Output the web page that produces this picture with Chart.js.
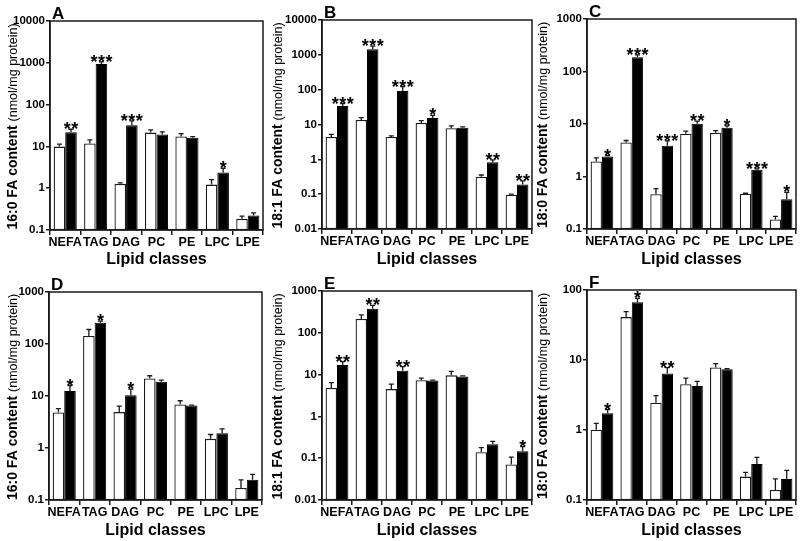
<!DOCTYPE html>
<html>
<head>
<meta charset="utf-8">
<script src="https://cdn.jsdelivr.net/npm/chart.js@4.4.0/dist/chart.umd.min.js"></script>
<style>
  html, body { margin: 0; padding: 0; background: #fff; }
  #fig { position: relative; width: 800px; height: 541px; overflow: hidden; }
  #fig canvas { position: absolute; }
</style>
</head>
<body>
<div id="fig"></div>
<script>
/* ── Data ─────────────────────────────────────────────── */
const categories = ['NEFA', 'TAG', 'DAG', 'PC', 'PE', 'LPC', 'LPE'];

// A – 16:0, top row
const ctrlA     = [9.9, 11.7, 1.27, 21.4, 17.2, 1.22, 0.185];
const ctrlErrA  = [11.3, 14.3, 1.34, 24.8, 20.3, 1.61, 0.214];
const treatA    = [21.8, 930, 32, 19.2, 16.0, 2.37, 0.222];
const treatErrA = [25.7, 1050, 41, 22.2, 17.2, 3.0, 0.257];
const starsA    = ['**', '***', '***', '', '', '*', ''];
const ticksA    = [0.1, 1, 10, 100, 1000, 10000];

// B – 18:1, top row
const ctrlB     = [4.38, 13.5, 4.4, 11.1, 7.8, 0.318, 0.097];
const ctrlErrB  = [5.2, 15.7, 4.7, 12.9, 9.1, 0.355, 0.1];
const treatB    = [34, 1450, 92, 15.4, 8.1, 0.82, 0.19];
const treatErrB = [40, 1770, 123, 18.4, 8.5, 0.97, 0.24];
const starsB    = ['***', '***', '***', '*', '', '**', '**'];
const ticksB    = [0.01, 0.1, 1, 10, 100, 1000, 10000];

// C – 18:0, top row
const ctrlC     = [1.93, 4.44, 0.46, 6.5, 6.8, 0.47, 0.152];
const ctrlErrC  = [2.27, 4.85, 0.59, 7.3, 7.5, 0.48, 0.174];
const treatC    = [2.4, 187, 3.84, 10.1, 8.45, 1.34, 0.37];
const treatErrC = [2.51, 208, 4.78, 11.3, 9.2, 1.4, 0.5];
const starsC    = ['*', '***', '***', '**', '*', '***', '*'];
const ticksC    = [0.1, 1, 10, 100, 1000];

// D – 16:0, bottom row
const ctrlD     = [4.84, 143, 4.9, 21.8, 6.9, 1.5, 0.171];
const ctrlErrD  = [5.7, 190, 6.4, 24.5, 8.1, 1.82, 0.243];
const treatD    = [12.5, 255, 10.3, 18.8, 6.6, 1.93, 0.246];
const treatErrD = [15.8, 275, 13.5, 20.2, 6.7, 2.33, 0.311];
const starsD    = ['*', '*', '*', '', '', '', ''];
const ticksD    = [0.1, 1, 10, 100, 1000];

// E – 18:1, bottom row
const ctrlE     = [4.8, 214, 4.5, 7.3, 9.6, 0.139, 0.0706];
const ctrlErrE  = [6.4, 267, 5.9, 8.2, 12, 0.18, 0.106];
const treatE    = [17, 378, 12.4, 7.2, 9.0, 0.216, 0.147];
const treatErrE = [20.4, 454, 15.5, 7.4, 9.3, 0.254, 0.19];
const starsE    = ['**', '**', '**', '', '', '', '*'];
const ticksE    = [0.01, 0.1, 1, 10, 100, 1000];

// F – 18:0, bottom row
const ctrlF     = [1.01, 41, 2.46, 4.5, 7.8, 0.216, 0.139];
const ctrlErrF  = [1.24, 49, 3.1, 5.5, 8.9, 0.248, 0.2];
const treatF    = [1.73, 67, 6.4, 4.25, 7.4, 0.327, 0.2];
const treatErrF = [1.95, 76, 7.8, 4.96, 7.5, 0.407, 0.265];
const starsF    = ['*', '*', '**', '', '', '', ''];
const ticksF    = [0.1, 1, 10, 100];

/* ── Layout ───────────────────────────────────────────── */
const FONT = "'Liberation Sans', Arial, Helvetica, sans-serif";
const INK = '#1a1a1a';

const panels = [
  { letter: 'A', title: '16:0 FA content', ctrl: ctrlA, ctrlErr: ctrlErrA, treat: treatA, treatErr: treatErrA, stars: starsA, ticks: ticksA,
    box: { x0: 0, y0: 0, h: 270, left: 50, right: 263, top: 21, bottom: 230 } },
  { letter: 'B', title: '18:1 FA content', ctrl: ctrlB, ctrlErr: ctrlErrB, treat: treatB, treatErr: treatErrB, stars: starsB, ticks: ticksB,
    box: { x0: 265, y0: 0, h: 270, left: 322, right: 532, top: 20, bottom: 229 } },
  { letter: 'C', title: '18:0 FA content', ctrl: ctrlC, ctrlErr: ctrlErrC, treat: treatC, treatErr: treatErrC, stars: starsC, ticks: ticksC,
    box: { x0: 530, y0: 0, h: 270, left: 587, right: 796, top: 19, bottom: 229 } },
  { letter: 'D', title: '16:0 FA content', ctrl: ctrlD, ctrlErr: ctrlErrD, treat: treatD, treatErr: treatErrD, stars: starsD, ticks: ticksD,
    box: { x0: 0, y0: 270, h: 271, left: 49, right: 262, top: 292, bottom: 500 } },
  { letter: 'E', title: '18:1 FA content', ctrl: ctrlE, ctrlErr: ctrlErrE, treat: treatE, treatErr: treatErrE, stars: starsE, ticks: ticksE,
    box: { x0: 265, y0: 270, h: 271, left: 322, right: 532, top: 291, bottom: 500 } },
  { letter: 'F', title: '18:0 FA content', ctrl: ctrlF, ctrlErr: ctrlErrF, treat: treatF, treatErr: treatErrF, stars: starsF, ticks: ticksF,
    box: { x0: 530, y0: 270, h: 271, left: 587, right: 796, top: 290, bottom: 500 } },
];

/* ── Decorations: error bars, stars, frame, y title, letter ── */
function makeDeco(p) {
  return {
    id: 'deco' + p.letter,
    afterDatasetsDraw(chart) {
      const { ctx, chartArea: a, scales: { y } } = chart;
      ctx.save();

      // error bars (upper half only)
      ctx.strokeStyle = INK;
      ctx.lineWidth = 1.3;
      [[0, p.ctrl, p.ctrlErr], [1, p.treat, p.treatErr]].forEach(([di, vals, errs]) => {
        chart.getDatasetMeta(di).data.forEach((bar, i) => {
          const yv = y.getPixelForValue(vals[i]);
          const ye = y.getPixelForValue(errs[i]);
          ctx.beginPath();
          ctx.moveTo(bar.x, yv);
          ctx.lineTo(bar.x, ye);
          ctx.moveTo(bar.x - 2.5, ye);
          ctx.lineTo(bar.x + 2.5, ye);
          ctx.stroke();
        });
      });

      // significance stars
      ctx.fillStyle = '#000';
      ctx.font = 'bold 18px ' + FONT;
      ctx.textAlign = 'center';
      ctx.textBaseline = 'alphabetic';
      chart.getDatasetMeta(1).data.forEach((bar, i) => {
        const s = p.stars[i];
        if (!s) return;
        const ye = y.getPixelForValue(p.treatErr[i]);
        const pitch = 7.5;
        for (let k = 0; k < s.length; k++) {
          ctx.fillText('*', bar.x + (k - (s.length - 1) / 2) * pitch, ye + 6);
        }
      });

      // frame
      ctx.lineWidth = 1.5;
      ctx.strokeRect(a.left, a.top, a.right - a.left, a.bottom - a.top);

      // panel letter
      ctx.textAlign = 'left';
      ctx.font = 'bold 17px ' + FONT;
      ctx.fillText(p.letter, a.left + 2, a.top - 2);

      // y title: bold measure + regular units
      const boldFont = 'bold 14px ' + FONT;
      const unitFont = '12.5px ' + FONT;
      const main = p.title + ' ';
      const unit = '(nmol/mg protein)';
      ctx.font = boldFont;
      const w1 = ctx.measureText(main).width;
      ctx.font = unitFont;
      const w2 = ctx.measureText(unit).width;
      ctx.translate(17, (a.top + a.bottom) / 2 + 1);
      ctx.rotate(-Math.PI / 2);
      const start = -(w1 + w2) / 2;
      ctx.font = boldFont;
      ctx.fillText(main, start, 0);
      ctx.font = unitFont;
      ctx.fillText(unit, start + w1, 0);

      ctx.restore();
    }
  };
}

/* ── Build charts ─────────────────────────────────────── */
const fig = document.getElementById('fig');

panels.forEach(p => {
  const b = p.box;
  const W = 270, H = b.h;
  const canvas = document.createElement('canvas');
  canvas.width = W;
  canvas.height = H;
  canvas.style.left = b.x0 + 'px';
  canvas.style.top = b.y0 + 'px';
  canvas.style.width = W + 'px';
  canvas.style.height = H + 'px';
  fig.appendChild(canvas);

  new Chart(canvas, {
    type: 'bar',
    data: {
      labels: categories,
      datasets: [
        {
          label: 'open bars',
          data: p.ctrl,
          backgroundColor: '#fff',
          borderColor: INK,
          borderWidth: 1.3,
          borderSkipped: false,
          categoryPercentage: 0.76,
          barPercentage: 1.0,
        },
        {
          label: 'filled bars',
          data: p.treat,
          backgroundColor: '#000',
          borderColor: '#000',
          borderWidth: 1,
          borderSkipped: false,
          categoryPercentage: 0.76,
          barPercentage: 1.0,
        },
      ],
    },
    options: {
      responsive: false,
      animation: false,
      devicePixelRatio: 1,
      layout: {
        padding: { left: 0, top: b.top - b.y0, right: b.x0 + W - b.right, bottom: 0 },
      },
      plugins: {
        legend: { display: false },
        tooltip: { enabled: false },
      },
      scales: {
        x: {
          grid: { offset: true, drawOnChartArea: false, drawTicks: true, tickLength: 5, color: INK, lineWidth: 1.5 },
          border: { display: true, color: INK, width: 1.5 },
          ticks: {
            autoSkip: false, maxRotation: 0, minRotation: 0, padding: 0,
            color: '#000', font: { family: FONT, size: 12.5, weight: 'bold' },
          },
          title: {
            display: true, text: 'Lipid classes', color: '#000',
            font: { family: FONT, size: 16, weight: 'bold' },
            padding: { top: 0, bottom: 1 },
          },
          afterFit: ax => { ax.height = b.y0 + H - b.bottom; },
        },
        y: {
          type: 'logarithmic',
          min: p.ticks[0],
          max: p.ticks[p.ticks.length - 1],
          afterBuildTicks: ax => { ax.ticks = p.ticks.map(v => ({ value: v })); },
          afterFit: ax => { ax.width = b.left - b.x0; },
          grid: { drawOnChartArea: false, drawTicks: true, tickLength: 4, color: INK, lineWidth: 1.5 },
          border: { display: true, color: INK, width: 1.5 },
          ticks: {
            padding: 1, color: '#000',
            font: { family: FONT, size: 11.5, weight: 'bold' },
            callback: v => String(v),
          },
        },
      },
    },
    plugins: [makeDeco(p)],
  });
});
</script>
</body>
</html>
